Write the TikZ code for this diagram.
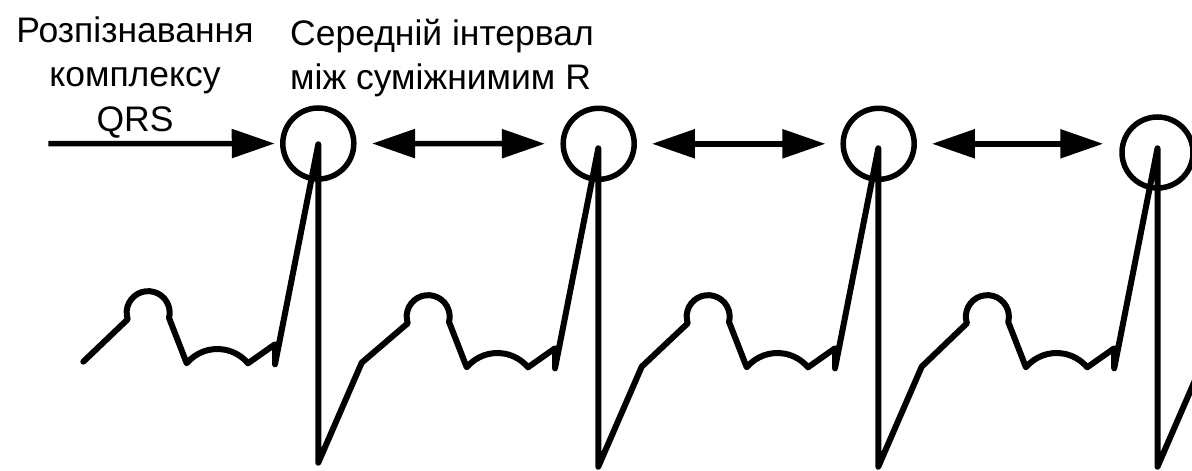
\documentclass[tikz,border=0pt]{standalone}
\usepackage{fontspec}
\setmainfont{Liberation Sans}
\usetikzlibrary{arrows.meta}
\begin{document}
\begin{tikzpicture}[x=1pt,y=1pt,
  lbl/.style={inner sep=0pt,font=\fontsize{35.5}{44.5}\selectfont},
  rmark/.style={circle,draw,line width=5.5pt,minimum size=71pt,inner sep=0pt},
  arr/.style={line width=5.5pt,-{Triangle[length=43pt,width=28pt]}},
  dbl/.style={line width=5.5pt,{Triangle[length=43pt,width=28pt]}-{Triangle[length=43pt,width=28pt]}},
  ecg/.style={line width=6pt,line cap=round,line join=round}]
\clip (0,0) rectangle (1192,471);
% labels
\node[lbl,align=center,anchor=base] (t1) at (135,339.5) {Розпізнавання\\комплексу\\QRS};
\node[lbl,align=left,anchor=base west] (t2) at (290,381) {Середній інтервал\\між суміжнимим R};
% R markers
\node[rmark] (r1) at (318.3,327.5) {};
\node[rmark] (r2) at (598.7,327.2) {};
\node[rmark] (r3) at (878.7,327.2) {};
\node[rmark] (r4) at (1157.5,318.5) {};
% arrows
\coordinate (in) at (48.3,327.3);
\draw[arr,shorten >=5.3pt] (in) -- (r1);
\draw[dbl,shorten >=15.5pt,shorten <=15.5pt] (r1) -- (r2);
\draw[dbl,shorten >=15pt,shorten <=15pt] (r2) -- (r3);
\draw[dbl,shorten >=16pt,shorten <=15pt] (r3.east) -- (r3.east -| r4.west);
% ECG trace
\draw[ecg] (83.3,109.3)
  \foreach \X/\d in {318.3/4,598.3/0,878.3/0,1157.5/0}{
    -- (\X-190.6,147.7+\d)
    arc[start angle=198,end angle=-14,radius=21.5]
    -- (\X-131.6,103.7+\d)
    arc[start angle=140,end angle=40,radius=40]
    -- (\X-43.3,122.7+\d)
    -- (\X-43.3,102.7+\d)
    -- (\X,322.7+\d)
    -- (\X,4.3+\d)
    -- (\X+43.4,104.3+\d)
  };
\end{tikzpicture}
\end{document}
